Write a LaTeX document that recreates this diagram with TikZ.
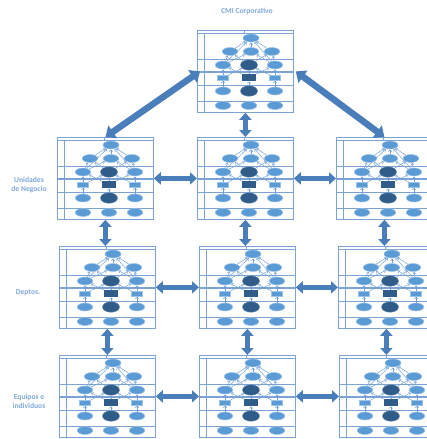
\documentclass[tikz,border=0pt]{standalone}
\usepackage{fontspec}
\setmainfont{Carlito}
\usetikzlibrary{shapes.geometric,arrows.meta}
\definecolor{frameblue}{HTML}{7BA3D6}
\definecolor{lightell}{HTML}{5B9BD5}
\definecolor{darkell}{HTML}{2F5C89}
\definecolor{arrowblue}{HTML}{4A7EBB}
\definecolor{labelblue}{HTML}{7FA9DC}
\definecolor{linkblue}{HTML}{6E9FD6}
\tikzset{
  frame/.style={draw=frameblue, line width=0.8pt, minimum width=96pt, minimum height=82pt, inner sep=0pt, anchor=north west},
  grid/.style={draw=frameblue, line width=0.8pt},
  lell/.style={ellipse, fill=lightell, draw=lightell!60, line width=0.5pt, minimum width=15.5pt, minimum height=8pt, inner sep=0pt},
  tell/.style={lell, minimum width=16pt},
  dell/.style={ellipse, fill=darkell, draw=darkell!70, line width=0.4pt, minimum width=17pt, minimum height=10.5pt, inner sep=0pt},
  lrect/.style={rectangle, fill=lightell, draw=lightell!60, line width=0.4pt, minimum width=11pt, minimum height=5.5pt, inner sep=0pt},
  drect/.style={rectangle, fill=darkell, minimum width=14.5pt, minimum height=6.5pt, inner sep=0pt},
  link/.style={draw=linkblue, line width=0.45pt, -{Straight Barb[length=1.8pt,width=3.2pt]}, shorten >=0.3pt},
  bigarrow/.style={draw=arrowblue, line width=5pt, {Triangle[width=12pt,length=7pt]}-{Triangle[width=12pt,length=7pt]}},
  diagarrow/.style={draw=arrowblue, line width=6.5pt, {Triangle[width=15pt,length=9pt]}-{Triangle[width=15pt,length=9pt]}},
  lab/.style={font=\fontsize{7.6}{9}\selectfont\bfseries, text=labelblue, align=center},
  cmi/.pic={
    \node[frame] (-frame) at (0,0) {};
    \draw[grid] (0,3) -- (96,3) (0,29) -- (96,29) (0,55) -- (96,55) (0,71) -- (96,71)
                (7,3) -- (7,82) (47,0) -- (47,3);
    \draw[grid, line width=1.2pt] (0,42) -- (96,42);
    \node[tell] (-top) at (54,8) {};
    \node[lell] (-bl) at (33,21.5) {};
    \node[lell] (-bm) at (54,21.5) {};
    \node[lell] (-br) at (75,21.5) {};
    \node[lell] (-cl) at (26,35) {};
    \node[dell] (-cm) at (52,35) {};
    \node[lell] (-cr) at (78,35) {};
    \node[lrect] (-dl) at (26,47.5) {};
    \node[drect] (-dm) at (52,47.5) {};
    \node[lrect] (-dr) at (78,47.5) {};
    \node[lell] (-el) at (26,61) {};
    \node[dell] (-em) at (52,61) {};
    \node[lell] (-er) at (78,61) {};
    \node[lell] (-fl) at (26,75.5) {};
    \node[lell] (-fm) at (52,75.5) {};
    \node[lell] (-fr) at (78,75.5) {};
    \draw[link] (-bl) -- (-top);
    \draw[link] (-bm) -- (-top);
    \draw[link] (-br) -- (-top);
    \draw[link] (-cl) -- (-top);
    \draw[link] (-cr) -- (-top);
    \draw[link] (-cl) -- (-bl);
    \draw[link] (-cl) -- (-bm);
    \draw[link] (-cm) -- (-bl);
    \draw[link] (-cm) -- (-br);
    \draw[link] (-cr) -- (-bm);
    \draw[link] (-cr) -- (-br);
    \draw[link] (-dl) -- (-cl);
    \draw[link] (-dl) -- (-cm);
    \draw[link] (-dm) -- (-cl);
    \draw[link] (-dm) -- (-cm);
    \draw[link] (-dm) -- (-cr);
    \draw[link] (-dr) -- (-cr);
    \draw[link] (-dr) -- (-cm);
    \draw[link] (-el) -- (-dl);
    \draw[link] (-em) -- (-dm);
    \draw[link] (-er) -- (-dr);
  }
}
\begin{document}
\begin{tikzpicture}[x=1pt, y=-1pt]
  \clip (0,0) rectangle (427,439);
  \fill[white] (0,0) rectangle (427,439);
  % boxes
  \pic (t) at (197,30) {cmi};
  \pic (l1) at (57,137) {cmi};
  \pic (m1) at (197,137) {cmi};
  \pic (r1) at (336,137) {cmi};
  \pic (l2) at (59,246) {cmi};
  \pic (m2) at (199,246) {cmi};
  \pic (r2) at (338,246) {cmi};
  \pic (l3) at (59,355) {cmi};
  \pic (m3) at (199,355) {cmi};
  \pic (r3) at (339,355) {cmi};
  % labels
  \node[lab] (lcorp) at (247,11) {CMI Corporativo};
  \node[lab] (lun) at (29,185) {Unidades\\de Negocio};
  \node[lab] (ldep) at (28,293) {Deptos.};
  \node[lab] (leq) at (29,401) {Equipos e\\individuos};
  % big arrows
  \draw[diagarrow] (l1-frame.north) -- ([xshift=3pt]t-frame.west);
  \draw[diagarrow] (r1-frame.north) -- ([xshift=2pt]t-frame.east);
  \draw[bigarrow] (t-frame.south) -- (t-frame.south |- m1-frame.north);
  \draw[bigarrow] (l1-frame.east) -- (m1-frame.west);
  \draw[bigarrow] (m1-frame.east) -- (r1-frame.west);
  \draw[bigarrow] (l2-frame.east) -- (m2-frame.west);
  \draw[bigarrow] (m2-frame.east) -- (r2-frame.west);
  \draw[bigarrow] (l3-frame.east) -- (m3-frame.west);
  \draw[bigarrow] (m3-frame.east) -- (r3-frame.west);
  \draw[bigarrow] (l1-frame.south) -- (l1-frame.south |- l2-frame.north);
  \draw[bigarrow] (m1-frame.south) -- (m1-frame.south |- m2-frame.north);
  \draw[bigarrow] (r1-frame.south) -- (r1-frame.south |- r2-frame.north);
  \draw[bigarrow] (l2-frame.south) -- (l2-frame.south |- l3-frame.north);
  \draw[bigarrow] (m2-frame.south) -- (m2-frame.south |- m3-frame.north);
  \draw[bigarrow] (r2-frame.south) -- (r2-frame.south |- r3-frame.north);
\end{tikzpicture}
\end{document}
